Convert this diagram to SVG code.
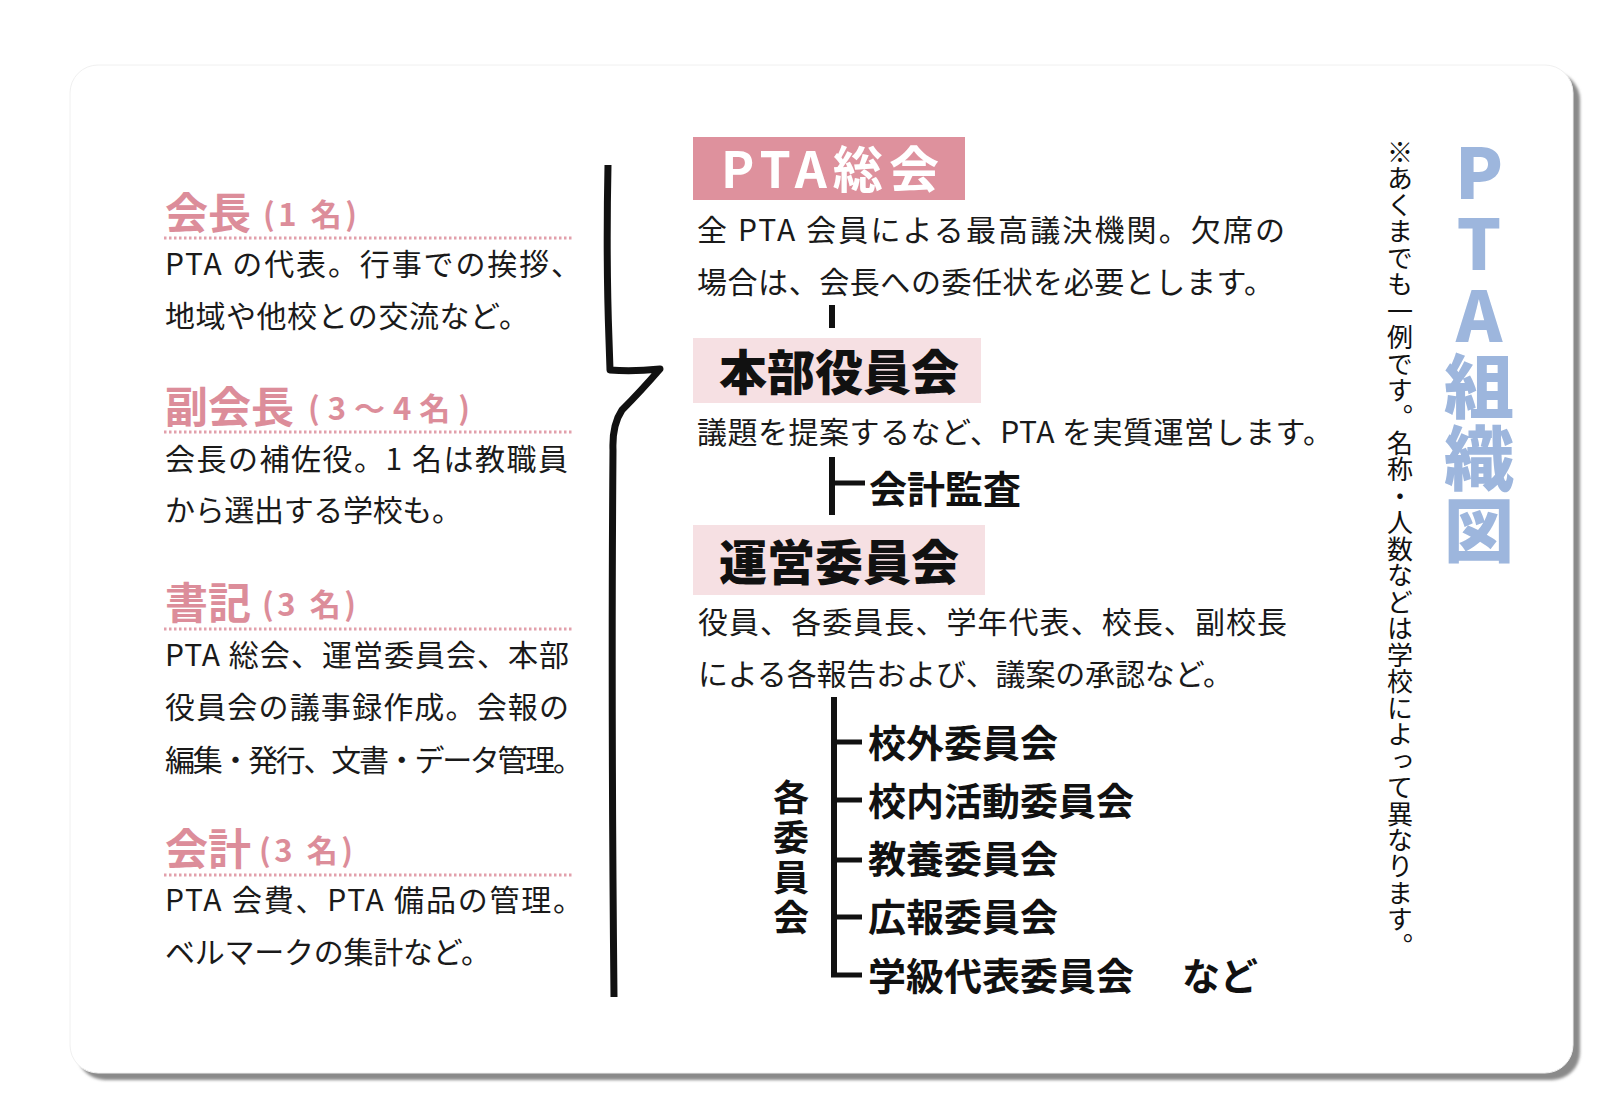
<svg xmlns="http://www.w3.org/2000/svg" width="1614" height="1110" viewBox="0 0 1614 1110">
<defs>
<filter id="sh" x="-5%" y="-5%" width="110%" height="110%"><feGaussianBlur stdDeviation="1.5"/></filter>
<style>
.jp{font-family:"Noto Sans CJK JP","Noto Sans",sans-serif}
.body{font-family:"Noto Sans CJK JP","Noto Sans",sans-serif;font-size:30px;fill:#1a1a1a}
.hd{font-family:"Noto Sans CJK JP","Noto Sans",sans-serif;font-weight:bold;font-size:43px;fill:#dc8d9a}
.sub{font-family:"Noto Sans CJK JP","Noto Sans",sans-serif;font-weight:bold;font-size:31px;fill:#dc8d9a}
.ul{stroke:#e2a0ab;stroke-width:3;stroke-dasharray:2.5 2.5;fill:none}
.ban{font-family:"Noto Sans CJK JP","Noto Sans",sans-serif;font-weight:900;font-size:48px;fill:#111}
.com{font-family:"Noto Sans CJK JP","Noto Sans",sans-serif;font-weight:bold;font-size:38px;fill:#111}
.vcom{font-family:"Noto Sans CJK JP","Noto Sans",sans-serif;font-weight:bold;font-size:36px;fill:#111;writing-mode:vertical-rl}
.ln{stroke:#111;fill:none;stroke-linecap:butt}
.ttlj{font-family:"Noto Sans CJK JP",sans-serif;font-weight:900;font-size:70px;fill:#9db6dd;writing-mode:vertical-rl;text-orientation:upright}
</style>
</defs>
<rect width="1614" height="1110" fill="#ffffff"/>
<g id="card">
<rect x="77" y="72" width="1503" height="1008" rx="28" fill="#8a8a8a" filter="url(#sh)"/>
<rect x="70" y="65" width="1503" height="1008" rx="28" fill="#ffffff" stroke="#f0f0f0" stroke-width="1"/>
</g>

<g id="kaicho">
<text class="hd" x="165" y="229">会長</text>
<text class="sub" x="263" y="226" textLength="94" lengthAdjust="spacing">(1 名)</text>
<line class="ul" x1="164" y1="238" x2="573" y2="238"/>
<text class="body" x="165" y="275" textLength="416" lengthAdjust="spacing">PTA の代表。行事での挨拶、</text>
<text class="body" x="165" y="327" textLength="364" lengthAdjust="spacing">地域や他校との交流など。</text>
</g>

<g id="fukukaicho">
<text class="hd" x="165" y="423">副会長</text>
<text class="sub" x="308" y="420" textLength="162" lengthAdjust="spacing">(3～4名)</text>
<line class="ul" x1="164" y1="432" x2="573" y2="432"/>
<text class="body" x="165" y="470" textLength="403" lengthAdjust="spacing">会長の補佐役。1 名は教職員</text>
<text class="body" x="165" y="521" textLength="297" lengthAdjust="spacing">から選出する学校も。</text>
</g>

<g id="shoki">
<text class="hd" x="165" y="619">書記</text>
<text class="sub" x="262" y="616" textLength="94" lengthAdjust="spacing">(3 名)</text>
<line class="ul" x1="164" y1="629" x2="573" y2="629"/>
<text class="body" x="165" y="666" textLength="404" lengthAdjust="spacing">PTA 総会、運営委員会、本部</text>
<text class="body" x="165" y="718" textLength="404" lengthAdjust="spacing">役員会の議事録作成。会報の</text>
<text class="body" x="165" y="771" textLength="418" lengthAdjust="spacing">編集・発行、文書・データ管理。</text>
</g>

<g id="kaikei">
<text class="hd" x="165" y="865">会計</text>
<text class="sub" x="259" y="862" textLength="94" lengthAdjust="spacing">(3 名)</text>
<line class="ul" x1="164" y1="875" x2="573" y2="875"/>
<text class="body" x="165" y="911" textLength="418" lengthAdjust="spacing">PTA 会費、PTA 備品の管理。</text>
<text class="body" x="165" y="963" textLength="326" lengthAdjust="spacing">ベルマークの集計など。</text>
</g>

<g id="connectors">
<path class="ln" stroke-width="7" stroke-linejoin="round" d="M608 165 Q606 260 609 340 L610 370 Q632 372 660 369 Q640 392 622 410 Q612 425 613 450 Q611 700 614 997"/>
<line class="ln" stroke-width="6" x1="832" y1="305" x2="832" y2="328"/>
<line class="ln" stroke-width="6" x1="832" y1="457" x2="832" y2="515"/>
<line class="ln" stroke-width="5" x1="832" y1="483" x2="865" y2="483"/>
<line class="ln" stroke-width="6" x1="834" y1="697" x2="834" y2="977"/>
<line class="ln" stroke-width="5" x1="834" y1="742" x2="862" y2="742"/>
<line class="ln" stroke-width="5" x1="834" y1="800" x2="862" y2="800"/>
<line class="ln" stroke-width="5" x1="834" y1="860" x2="862" y2="860"/>
<line class="ln" stroke-width="5" x1="834" y1="917" x2="862" y2="917"/>
<line class="ln" stroke-width="5" x1="831" y1="975" x2="862" y2="975"/>
</g>

<g id="sokai">
<rect x="693" y="137" width="272" height="63" fill="#de919d"/>
<text class="jp" x="721" y="188" font-size="50" font-weight="bold" fill="#ffffff" textLength="218" lengthAdjust="spacing">PTA総会</text>
<text class="body" x="697" y="241" textLength="588" lengthAdjust="spacing">全 PTA 会員による最高議決機関。欠席の</text>
<text class="body" x="697" y="293" textLength="577" lengthAdjust="spacing">場合は、会長への委任状を必要とします。</text>
</g>

<g id="honbu">
<rect x="693" y="338" width="288" height="65" fill="#f6e0e3"/>
<text class="ban" x="719" y="390">本部役員会</text>
<text class="body" x="697" y="443" textLength="636" lengthAdjust="spacing">議題を提案するなど、PTA を実質運営します。</text>
</g>

<g id="kansa">
<text class="com" x="869" y="503">会計監査</text>
</g>

<g id="unei">
<rect x="693" y="525" width="292" height="70" fill="#f6e0e3"/>
<text class="ban" x="719" y="580">運営委員会</text>
<text class="body" x="698" y="633" textLength="589" lengthAdjust="spacing">役員、各委員長、学年代表、校長、副校長</text>
<text class="body" x="698" y="685" textLength="535" lengthAdjust="spacing">による各報告および、議案の承認など。</text>
</g>

<g id="kakuiinkai">
<text class="vcom" x="791" y="779" textLength="156" lengthAdjust="spacing">各委員会</text>
</g>
<g id="kogai"><text class="com" x="868" y="757">校外委員会</text></g>
<g id="konai"><text class="com" x="868" y="815">校内活動委員会</text></g>
<g id="kyoyo"><text class="com" x="868" y="873">教養委員会</text></g>
<g id="koho"><text class="com" x="868" y="931">広報委員会</text></g>
<g id="gakkyu"><text class="com" x="868" y="990">学級代表委員会</text><text class="com" x="1182" y="990">など</text></g>

<g id="title">
<text class="ttlj" x="1479" y="137" textLength="428" lengthAdjust="spacing">PTA組織図</text>
</g>

<g id="note">
<text class="jp" x="1400" y="139" font-size="26" fill="#111" style="writing-mode:vertical-rl" textLength="820" lengthAdjust="spacing">※あくまでも一例です。名称・人数などは学校によって異なります。</text>
</g>
</svg>
